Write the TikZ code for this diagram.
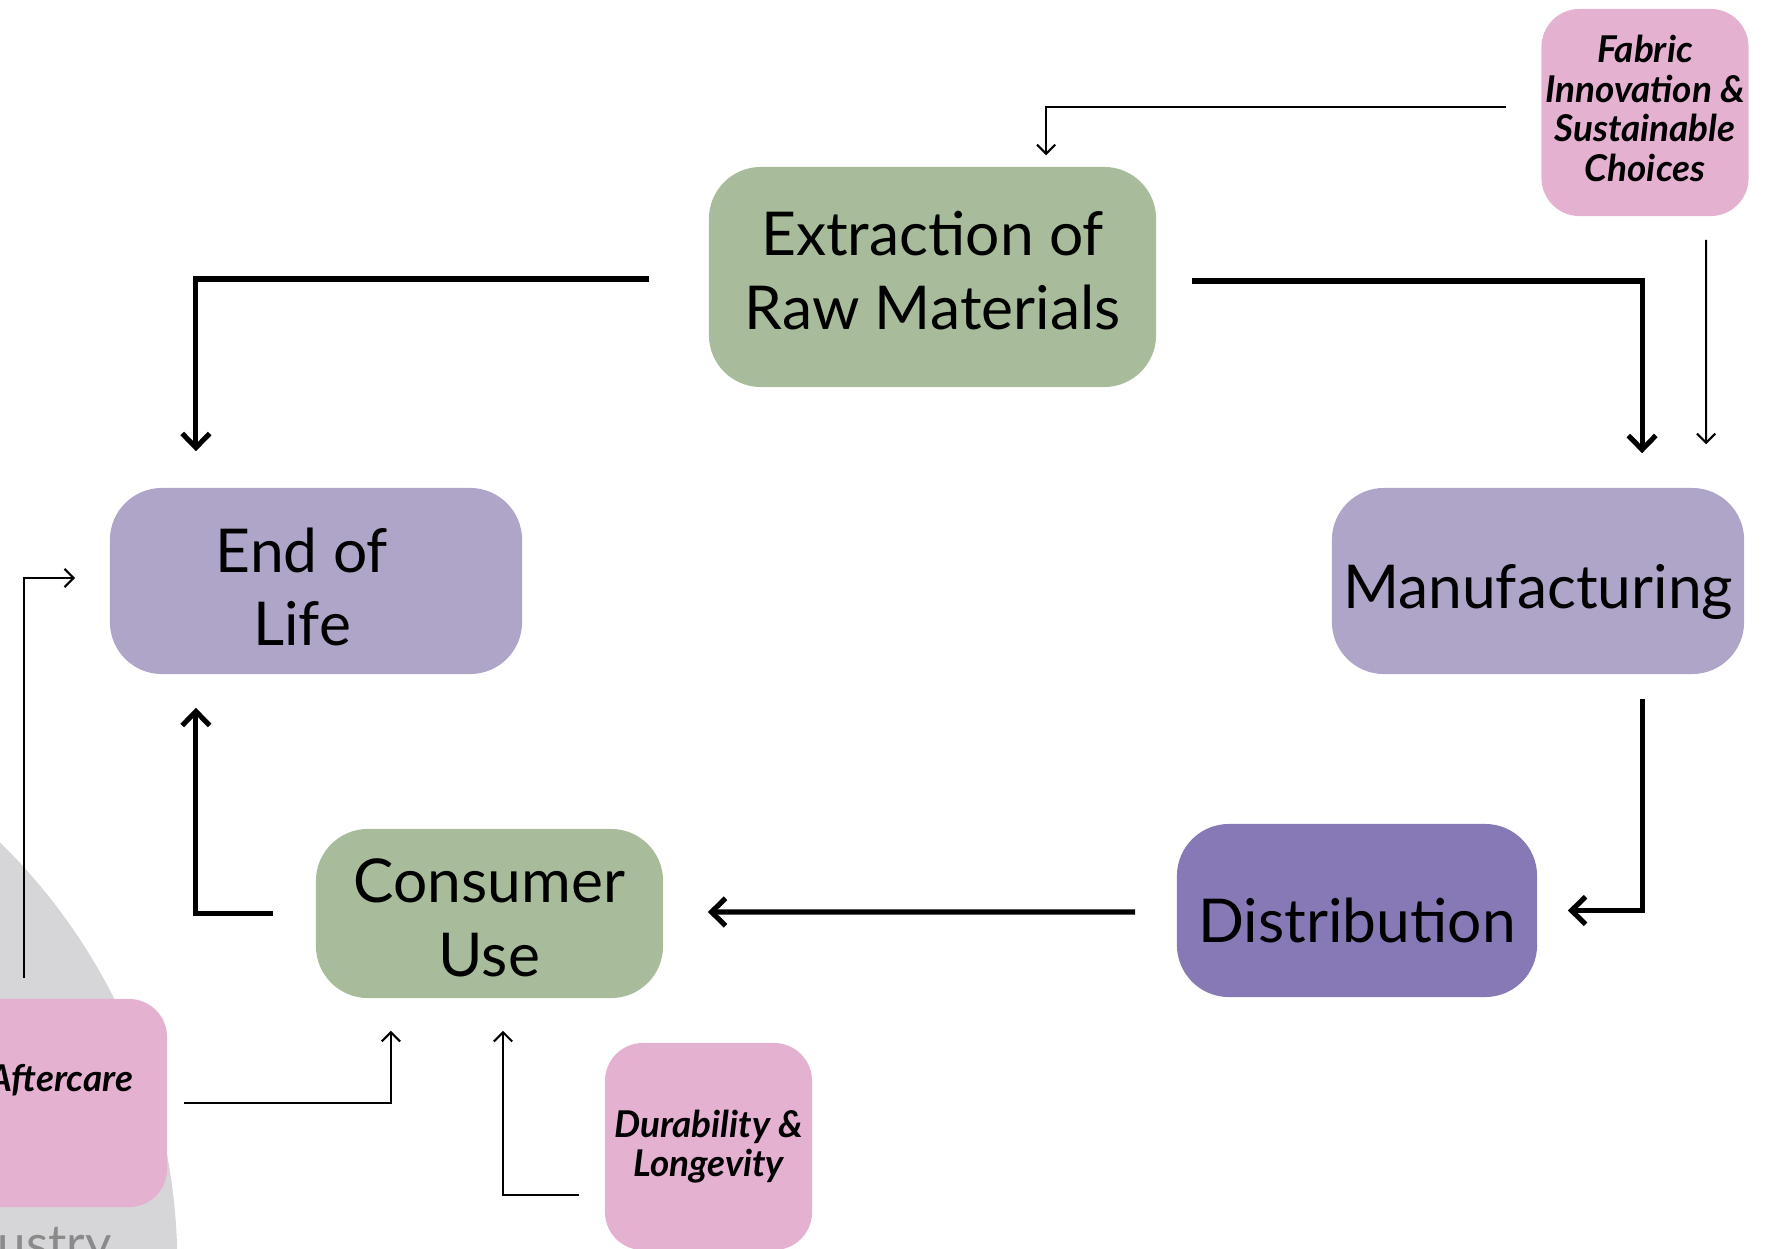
\documentclass[tikz,border=0pt]{standalone}
\usepackage{fontspec}
\setmainfont{Lato}
\usetikzlibrary{arrows.meta}
\definecolor{sage}{HTML}{A8BC9B}
\definecolor{lav}{HTML}{AFA5C9}
\definecolor{violet2}{HTML}{8679B5}
\definecolor{pinkbox}{HTML}{E5B1D1}
\definecolor{lgray}{HTML}{D6D6D8}
\definecolor{txtgray}{HTML}{8A8A8A}
\tikzset{
  stage/.style={rounded corners=0.52cm, inner sep=0pt},
  stagetext/.style={inner sep=0pt, align=center,
    font=\fontsize{17.2}{21}\selectfont, text=black},
  tag/.style={fill=pinkbox, rounded corners=0.38cm, inner sep=0pt,
    minimum width=2.07cm, minimum height=2.07cm},
  tagtext/.style={inner sep=0pt, align=center,
    font=\fontsize{10.5}{11.2}\selectfont\bfseries\itshape},
  thk/.style={line width=1.45pt, -{Straight Barb[length=4pt,width=7.8pt]}},
  thn/.style={line width=0.6pt, -{Straight Barb[length=2.6pt,width=5.2pt]}},
}
\begin{document}
\begin{tikzpicture}[x=0.01cm,y=-0.01cm]
\useasboundingbox (0,0) rectangle (1770,1249);
\clip (0,0) rectangle (1770,1249);
% background shape and cut-off text
\fill[lgray] (-415,1265) circle (5.92cm);
\node[anchor=base west, inner sep=0pt, text=txtgray, font=\fontsize{14.5}{16}\selectfont] (ustry) at (-3,1261) {ustry};
% stages
\node[stage, fill=sage, minimum width=4.47cm, minimum height=2.2cm] (ext) at (932.5,277) {};
\node[stagetext] (extT) at (932.5,271) {Extraction of\\Raw Materials};
\node[stage, fill=lav, minimum width=4.12cm, minimum height=1.86cm] (eol) at (316,581) {};
\node[stagetext] (eolT) at (302,587) {End of\\Life};
\node[stage, fill=lav, minimum width=4.12cm, minimum height=1.86cm] (man) at (1538,581) {};
\node[stagetext] (manT) at (1538,592) {Manufacturing};
\node[stage, fill=violet2, minimum width=3.6cm, minimum height=1.73cm] (dist) at (1357,910.5) {};
\node[stagetext] (distT) at (1357,920.5) {Distribution};
\node[stage, fill=sage, minimum width=3.47cm, minimum height=1.69cm] (cons) at (489.5,913.5) {};
\node[stagetext] (consT) at (489.5,917.5) {Consumer\\Use};
% influence tags
\node[tag] (fab) at (1645,112.5) {};
\node[tagtext] (fabT) at (1645,108.5) {Fabric\\Innovation \&\\Sustainable\\Choices};
\node[tag, minimum height=2.08cm] (after) at (63.5,1103) {};
\node[tagtext] (afterT) at (61,1080) {Aftercare};
\node[tag] (dur) at (708.5,1146.5) {};
\node[tagtext] (durT) at (708.5,1146.5) {Durability \&\\Longevity};
% main cycle connectors
\draw[thk] ([xshift=-0.59cm,yshift=-0.02cm]ext.west) -| ([xshift=-1.2cm,yshift=0.36cm]eol.north);
\draw[thk] ([xshift=0.35cm,yshift=-0.04cm]ext.east) -| ([xshift=1.04cm,yshift=0.34cm]man.north);
\draw[thk] ([xshift=1.04cm,yshift=-0.24cm]man.south) |- ([xshift=0.30cm]dist.east);
\draw[thk] ([xshift=-0.41cm,yshift=-0.015cm]dist.west) -- ([xshift=0.44cm,yshift=0.015cm]cons.east);
\draw[thk] ([xshift=-0.42cm]cons.west) -| ([xshift=-1.2cm,yshift=-0.33cm]eol.south);
% influence connectors
\draw[thn] ([xshift=-0.35cm,yshift=0.055cm]fab.west) -| ([xshift=1.135cm,yshift=0.11cm]ext.north);
\draw[thn] ([xshift=0.61cm,yshift=-0.23cm]fab.south) -- ([xshift=1.68cm,yshift=0.43cm]man.north);
\draw[thn] ([xshift=-0.395cm,yshift=0.2cm]after.north) |- ([xshift=-0.34cm,yshift=0.03cm]eol.west);
\draw[thn] ([xshift=0.16cm]after.east) -| ([xshift=-0.985cm,yshift=-0.32cm]cons.south);
\draw[thn] ([xshift=-0.25cm,yshift=-0.485cm]dur.west) -| ([xshift=0.135cm,yshift=-0.32cm]cons.south);
\end{tikzpicture}
\end{document}
